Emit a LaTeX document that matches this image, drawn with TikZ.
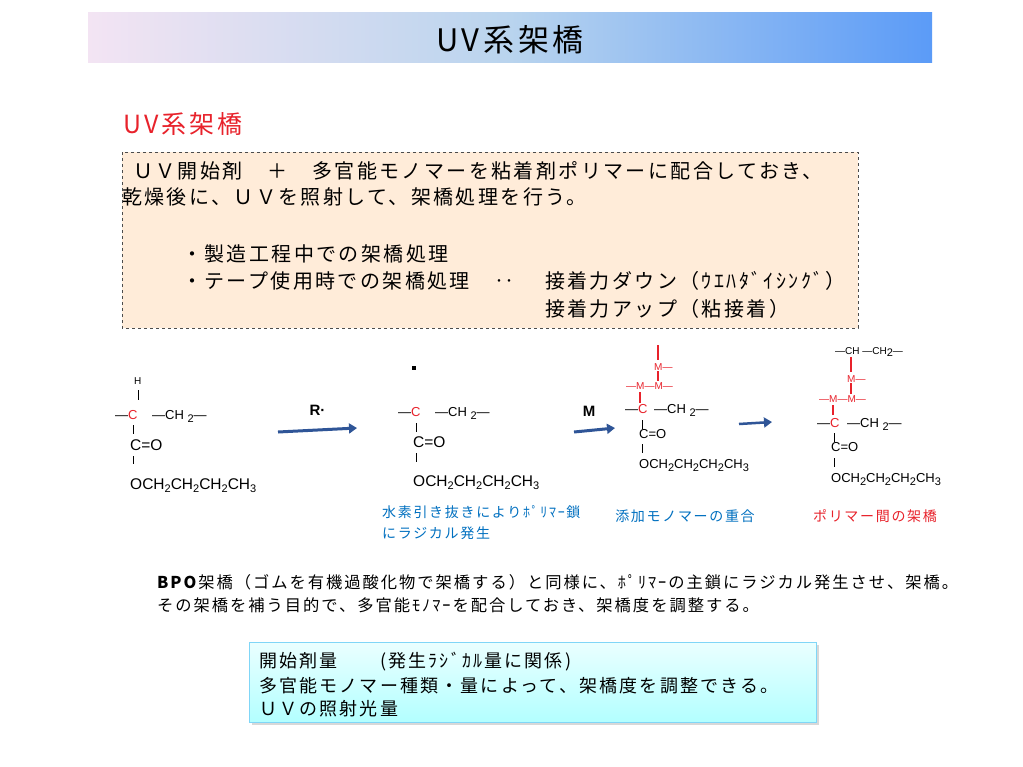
\documentclass[tikz,border=0pt]{standalone}
\usepackage{fontspec}
\setmainfont[LetterSpace=12]{Noto Sans CJK JP}
\newfontfamily\chemf{Liberation Sans}
\usetikzlibrary{arrows.meta,shadows}
\definecolor{rd}{HTML}{E8222B}
\definecolor{bl}{HTML}{0070C0}
\definecolor{ar}{HTML}{2F5597}
\definecolor{tl}{HTML}{F3E4F3}
\definecolor{tm}{HTML}{B9D4EE}
\definecolor{tr}{HTML}{5B9BF7}
\newcommand{\subn}[1]{\raisebox{-0.25em}{\fontsize{11}{11}\selectfont #1}}
\newcommand{\och}{OCH\subn{2}CH\subn{2}CH\subn{2}CH\subn{3}}
\tikzset{
 t/.style={anchor=base west,inner sep=0pt},
 j/.style={t,font=\fontsize{20}{20}\selectfont},
 ch/.style={anchor=base west,inner sep=0pt,font=\chemf\fontsize{13}{13}\selectfont},
 big/.style={anchor=base west,inner sep=0pt,font=\chemf\fontsize{15.5}{15}\selectfont},
 rch/.style={ch,text=rd},
 bd/.style={line width=0.6pt},
 rb/.style={line width=1.4pt,rd},
 arr/.style={line width=3pt,ar,-{Triangle[length=8pt,width=10pt]}},
 capt/.style={anchor=base,inner sep=0pt,font=\fontsize{14}{14}\selectfont},
 b/.style={t,font=\fontsize{16.3}{17}\selectfont},
 bb/.style={t,font=\fontsize{18}{18}\selectfont}
}
\begin{document}
\begin{tikzpicture}[x=1pt,y=-1pt]
\useasboundingbox[fill=white] (0,0) rectangle (1023,766);
\shade[left color=tl,right color=tr,middle color=tm] (88,12) rectangle (932,62);
\node[font=\fontsize{31}{31}\selectfont] (title) at (510,40) {UV系架橋};
\node[t,font=\fontsize{25}{25}\selectfont,text=rd] (sub) at (123,133) {UV系架橋};
\draw[dashed,fill=orange!15!white,draw=black!70] (122,152) rectangle (858,328);
\node[j] (l1) at (133,178) {ＵＶ開始剤　＋　多官能モノマーを粘着剤ポリマーに配合しておき、};
\node[j] (l2) at (122,204) {乾燥後に、ＵＶを照射して、架橋処理を行う。};
\node[j] (l3) at (182,261) {・製造工程中での架橋処理};
\node[j] (l4) at (182,288) {・テープ使用時での架橋処理　‥};
\node[j] (l4b) at (545,288) {接着力ダウン（ｳｴﾊﾀﾞｲｼﾝｸﾞ）};
\node[j] (l5) at (545,316) {接着力アップ（粘接着）};
% structure 1
\node[ch,font=\chemf\fontsize{10}{10}\selectfont] (h1) at (134,384) {H};
\draw[bd] (138,390) -- (138,400);
\node[ch] (c1) at (115,419) {{—}\textcolor{rd}{C}};
\node[ch] (ch1) at (152,419) {{—}CH \subn{2}{—}};
\draw[bd] (133,425) -- (133,434);
\node[big] (co1) at (130,450) {C=O};
\draw[bd] (133,456) -- (133,464);
\node[big] (o1) at (130,489) {\och};
\draw[arr] (278,432) -- (357,428) node[midway,above=10pt,font=\chemf\bfseries\fontsize{15}{15}\selectfont,text=black] (r) {R·};
% structure 2
\fill (412,366) rectangle (416,370);
\node[ch] (c2) at (398,416) {{—}\textcolor{rd}{C}};
\node[ch] (ch2) at (435,416) {{—}CH \subn{2}{—}};
\draw[bd] (416,423) -- (416,432);
\node[big] (co2) at (413,447) {C=O};
\draw[bd] (416,453) -- (416,462);
\node[big] (o2) at (413,486) {\och};
\node[t,font=\fontsize{14}{14}\selectfont,text=bl] (cap1) at (382,517) {水素引き抜きによりﾎﾟﾘﾏｰ鎖};
\node[t,font=\fontsize{14}{14}\selectfont,text=bl] (cap1b) at (382,538) {にラジカル発生};
\draw[arr] (574,432) -- (615,428);
\node[font=\chemf\bfseries\fontsize{15}{15}\selectfont] (m) at (589,411) {M};
% structure 3
\draw[rb] (658,345) -- (658,360);
\node[rch,font=\chemf\fontsize{10}{10}\selectfont] (m31) at (654,370) {M—};
\draw[rb] (658,371) -- (658,381);
\node[rch,font=\chemf\fontsize{10}{10}\selectfont] (m32) at (626,389) {—M—M—};
\draw[rb] (640,392) -- (640,403);
\node[ch] (c3) at (625,413) {{—}\textcolor{rd}{C}};
\node[ch] (ch3) at (654,413) {{—}CH \subn{2}{—}};
\draw[bd] (642,420) -- (642,429);
\node[ch] (co3) at (639,438) {C=O};
\draw[bd] (642,444) -- (642,453);
\node[ch] (o3) at (639,468) {\och};
\node[capt,text=bl] (cap2) at (685,521) {添加モノマーの重合};
\draw[arr,line width=2.5pt] (739,424) -- (772,422);
% structure 4
\node[ch,font=\chemf\fontsize{10}{10}\selectfont] (top4) at (835,354) {—CH —CH\subn{2}—};
\draw[rb] (851,357) -- (851,372);
\node[rch,font=\chemf\fontsize{10}{10}\selectfont] (m41) at (847,382) {M—};
\draw[rb] (851,383) -- (851,394);
\node[rch,font=\chemf\fontsize{10}{10}\selectfont] (m42) at (819,402) {—M—M—};
\draw[rb] (833,405) -- (833,415);
\node[ch] (c4) at (817,427) {{—}\textcolor{rd}{C}};
\node[ch] (ch4) at (847,427) {{—}CH \subn{2}{—}};
\draw[bd] (834,433) -- (834,442);
\node[ch] (co4) at (831,451) {C=O};
\draw[bd] (834,458) -- (834,467);
\node[ch] (o4) at (831,482) {\och};
\node[capt,text=rd] (cap3) at (875,521) {ポリマー間の架橋};
% text
\node[b] (p1) at (157,588) {\textbf{BPO}架橋（ゴムを有機過酸化物で架橋する）と同様に、ﾎﾟﾘﾏｰの主鎖にラジカル発生させ、架橋。};
\node[b] (p2) at (157,611) {その架橋を補う目的で、多官能ﾓﾉﾏｰを配合しておき、架橋度を調整する。};
\shade[top color=cyan!8!white,bottom color=cyan!30!white,drop shadow={opacity=0.3}] (249,642) rectangle (816,722);
\draw[cyan!50!white] (249,642) rectangle (816,722);
\node[bb] (q1) at (259,667) {開始剤量　　(発生ﾗｼﾞｶﾙ量に関係)};
\node[bb] (q2) at (259,692) {多官能モノマー種類・量によって、架橋度を調整できる。};
\node[bb] (q3) at (259,715) {ＵＶの照射光量};
\end{tikzpicture}
\end{document}
